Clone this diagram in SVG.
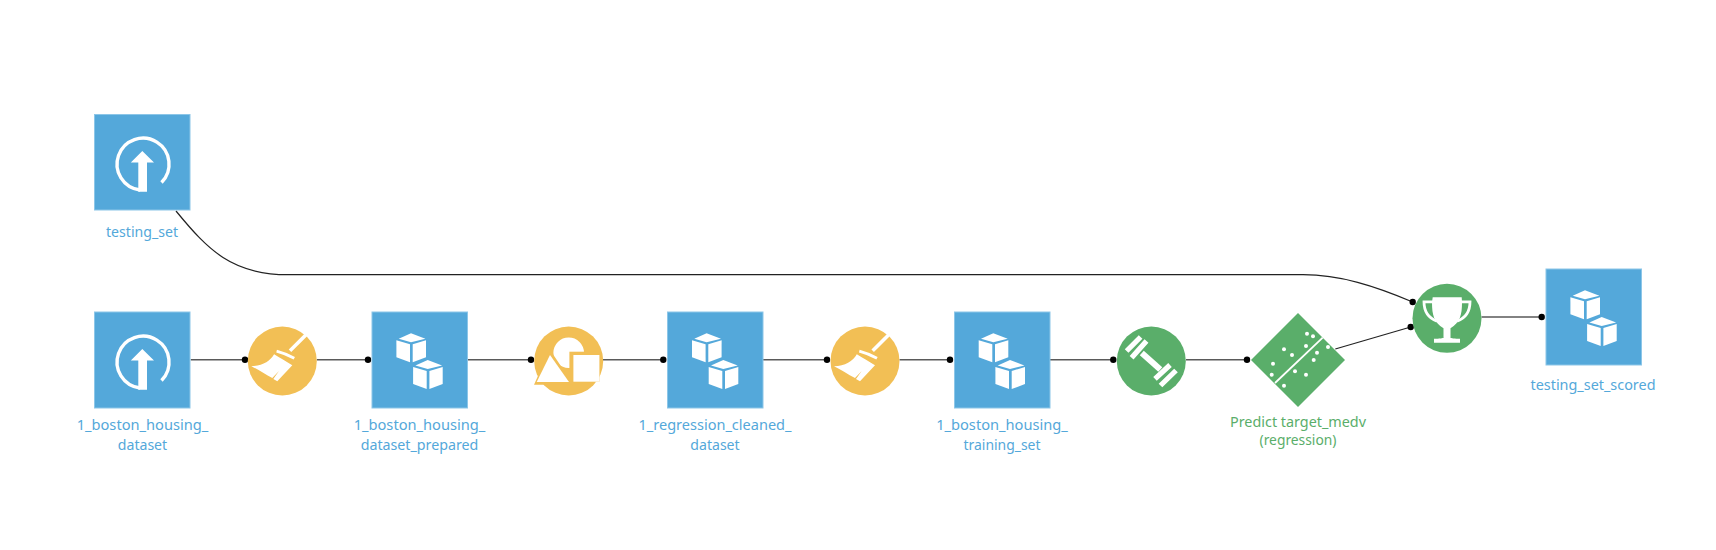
<svg xmlns="http://www.w3.org/2000/svg" xmlns:xlink="http://www.w3.org/1999/xlink" width="1716" height="550" viewBox="0 0 1716 550">
<style>
text{font-family:"Noto Sans","Open Sans",sans-serif;font-size:15.2px;text-anchor:middle}
.bl{fill:#54a8da}.gr{fill:#5aae6a}.ye{fill:#f2bf55}.wh{fill:#fff}
.sq{fill:#54a8da;stroke:#8cc6e8;stroke-width:1}
.ln{fill:none;stroke:#5a5a5a;stroke-width:1.6}
.cv{fill:none;stroke:#222;stroke-width:1.2}
.dot{fill:#000}
.sw{fill:none;stroke:#fff}
</style>
<defs>
<g id="upload">
<path class="sw" stroke-width="3.4" d="M140,190A26,26 0 1 1 161.5,182.5"/>
<path class="wh" d="M142.3,151L154,162.5H147V191.7H138.3V162.5H130.8Z"/>
</g>
<g id="cube">
<path class="wh" d="M39.3,21.3L53.7,26.7L39.3,30.2L27,26.7Z"/>
<path class="wh" d="M24.7,28.3L38.3,32.3V50.3L24.7,45.3Z"/>
<path class="wh" d="M41,32.3L54.3,28.3V45.3L41,50.3Z"/>
</g>
<g id="cubes">
<use href="#cube"/>
<use href="#cube" x="16.7" y="26.7"/>
</g>
<g id="broom">
<path class="sw" stroke-width="3.6" d="M23.5,-26L7.7,-10.3"/>
<path class="sw" stroke-width="2.8" d="M-5.7,-9.8Q3,-7.5 12,-2.7"/>
<path class="wh" d="M-8.2,-6.8C-12,0 -20,5 -31,5.2C-24,8.5 -17,13.5 -10,17L-3.3,10L-9,18L-5,20.2L10,4.2C3,0 -2,-3 -8.2,-6.8Z"/>
</g>
</defs>
<g id="connectors">
<path class="cv" d="M176,211C208,250 232,274.7 288,274.7L1303,274.7C1340,274.7 1375,286 1412.7,302"/>
<path class="ln" d="M190.7,359.7H245M316.8,359.7H368M468,359.7H531M603,359.7H663.3M763,359.7H827M899.5,359.7H950M1050,359.7H1113.3M1186,359.7H1247M1481.5,317H1541.7"/>
<path class="cv" d="M1335.3,349L1410.7,327"/>
<circle class="dot" cx="245" cy="359.7" r="3.2"/>
<circle class="dot" cx="368" cy="359.7" r="3.2"/>
<circle class="dot" cx="531" cy="359.7" r="3.2"/>
<circle class="dot" cx="663.3" cy="359.7" r="3.2"/>
<circle class="dot" cx="827" cy="359.7" r="3.2"/>
<circle class="dot" cx="950" cy="359.7" r="3.2"/>
<circle class="dot" cx="1113.3" cy="359.7" r="3.2"/>
<circle class="dot" cx="1247" cy="359.7" r="3.2"/>
<circle class="dot" cx="1412.7" cy="302" r="3.2"/>
<circle class="dot" cx="1410.7" cy="327" r="3.2"/>
<circle class="dot" cx="1541.7" cy="317" r="3.2"/>
</g>
<g id="testing_set">
<rect class="sq" x="94.5" y="114.5" width="95.5" height="95.5"/>
<use href="#upload"/>
<text class="bl" x="142" y="237" textLength="72" lengthAdjust="spacingAndGlyphs">testing_set</text>
</g>
<g id="dataset">
<rect class="sq" x="94.5" y="312" width="95.5" height="96"/>
<use href="#upload" y="198"/>
<text class="bl" x="142.5" y="430" textLength="131.7" lengthAdjust="spacingAndGlyphs">1_boston_housing_</text>
<text class="bl" x="142.5" y="450" textLength="49.3" lengthAdjust="spacingAndGlyphs">dataset</text>
</g>
<g id="prepare1">
<circle class="ye" cx="282.3" cy="361" r="34.5"/>
<use href="#broom" x="282.3" y="361"/>
</g>
<g id="dataset_prepared">
<rect class="sq" x="372" y="312" width="95.5" height="96"/>
<use href="#cubes" x="371.7" y="312"/>
<text class="bl" x="419.5" y="430" textLength="131.7" lengthAdjust="spacingAndGlyphs">1_boston_housing_</text>
<text class="bl" x="419.5" y="450" textLength="117.7" lengthAdjust="spacingAndGlyphs">dataset_prepared</text>
</g>
<g id="split">
<circle class="ye" cx="568.7" cy="361" r="34.5"/>
<g transform="translate(568.7 361)">
<circle class="wh" cx="0" cy="-8.3" r="15.3"/>
<path class="ye" stroke="#f2bf55" stroke-width="3.5" d="M-18.7,-8L1.5,22H-32Z"/>
<path class="wh" d="M-18.7,-6L0.3,21H-32Z"/>
<rect class="ye" x="0.7" y="-9.3" width="30" height="30"/>
<rect class="wh" x="4.7" y="-6" width="26" height="26.7"/>
</g>
</g>
<g id="regression_cleaned">
<rect class="sq" x="667.5" y="312" width="95.5" height="96"/>
<use href="#cubes" x="667.3" y="312"/>
<text class="bl" x="715" y="430" textLength="153" lengthAdjust="spacingAndGlyphs">1_regression_cleaned_</text>
<text class="bl" x="715" y="450" textLength="49.3" lengthAdjust="spacingAndGlyphs">dataset</text>
</g>
<g id="prepare2">
<circle class="ye" cx="865" cy="361" r="34.5"/>
<use href="#broom" x="865" y="361"/>
</g>
<g id="training_set">
<rect class="sq" x="954.5" y="312" width="95.5" height="96"/>
<use href="#cubes" x="954" y="312"/>
<text class="bl" x="1002" y="430" textLength="131.7" lengthAdjust="spacingAndGlyphs">1_boston_housing_</text>
<text class="bl" x="1002" y="450" textLength="77" lengthAdjust="spacingAndGlyphs">training_set</text>
</g>
<g id="train">
<circle class="gr" cx="1151.3" cy="361" r="34.5"/>
<g transform="translate(1151.3 361)" class="sw" stroke-width="5.2">
<path stroke-width="6" d="M-9.5,-8L9,8.5"/>
<path d="M-24.7,-10L-10.7,-24M-19.7,-3.2L-4.8,-20M3.7,17.8L18.7,4M9.2,24.5L24.7,9.5"/>
</g>
</g>
<g id="model">
<path class="gr" d="M1298,313L1345,360L1298,407L1251,360Z"/>
<path class="sw" stroke-width="1.8" d="M1275,383L1322.7,337.7"/>
<g class="wh" transform="translate(1298 360)">
<circle cx="9" cy="-26.3" r="2"/><circle cx="15" cy="-23.7" r="2"/><circle cx="8" cy="-14" r="2"/>
<circle cx="-14" cy="-10.7" r="2"/><circle cx="-6" cy="-5" r="2"/><circle cx="-25" cy="3.7" r="2"/>
<circle cx="-26.3" cy="14.7" r="2"/><circle cx="30" cy="-13" r="2"/><circle cx="19" cy="-7.3" r="2"/>
<circle cx="15.7" cy="0" r="2"/><circle cx="-3" cy="11.3" r="2"/><circle cx="8" cy="14.7" r="2"/>
<circle cx="-14" cy="25.7" r="2"/>
</g>
<text class="gr" x="1298" y="426.5" textLength="136" lengthAdjust="spacingAndGlyphs">Predict target_medv</text>
<text class="gr" x="1298" y="445" textLength="77" lengthAdjust="spacingAndGlyphs">(regression)</text>
</g>
<g id="score">
<circle class="gr" cx="1447" cy="318.3" r="34.5"/>
<g transform="translate(1447 318.3)">
<path class="sw" stroke-width="2.8" d="M-14,-16.5H-23C-23,-6 -18,0 -10,3M14,-16.5H23C23,-6 18,0 10,3"/>
<path class="wh" d="M-14.3,-21H14.7L15,-16C15,-3 13,4 3.5,10V19.5C3.5,20 8,20.5 13,20.5V24.5H-13V20.5C-8,20.5 -3.5,20 -3.5,19.5V10C-13,4 -15,-3 -15,-16Z"/>
</g>
</g>
<g id="testing_set_scored">
<rect class="sq" x="1546" y="269" width="95.5" height="96"/>
<use href="#cubes" x="1545.7" y="269"/>
<text class="bl" x="1593" y="390" textLength="125" lengthAdjust="spacingAndGlyphs">testing_set_scored</text>
</g>
</svg>
